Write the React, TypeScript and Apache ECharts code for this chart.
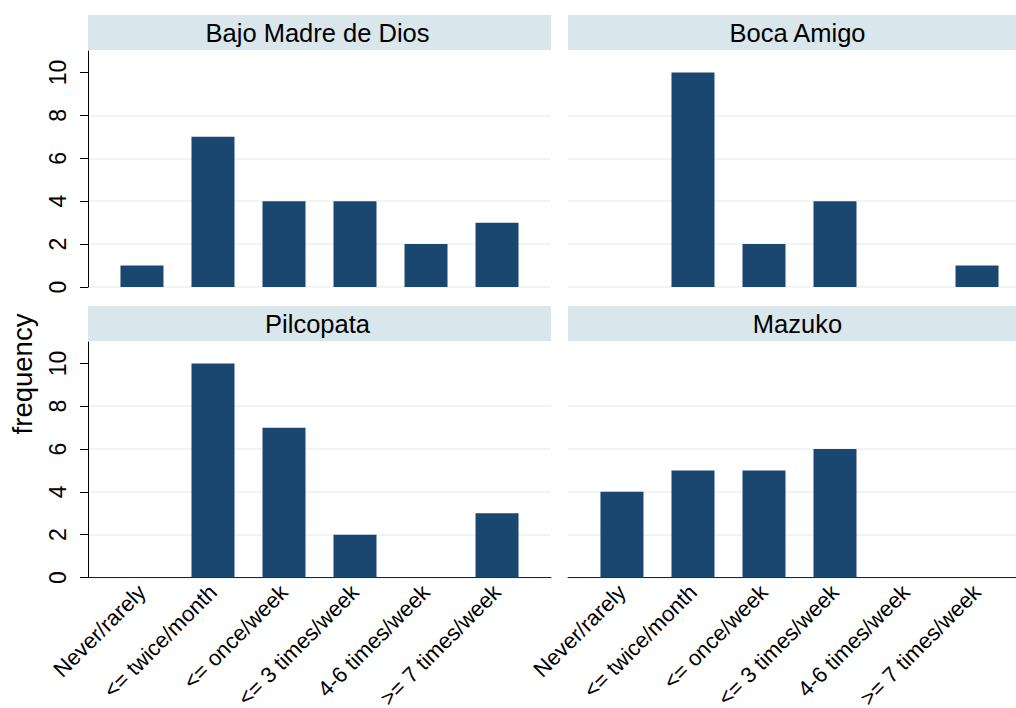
import React, { useEffect, useRef } from "react";
import * as echarts from "echarts";

const categories = [
  "Never/rarely",
  "<= twice/month",
  "<= once/week",
  "<= 3 times/week",
  "4-6 times/week",
  ">= 7 times/week",
];
const categoryPositions = [1, 2, 3, 4, 5, 6];
const panelTitles = ["Bajo Madre de Dios", "Boca Amigo", "Pilcopata", "Mazuko"];
const bajoMadreValues = [1, 7, 4, 4, 2, 3];
const bocaAmigoValues = [0, 10, 2, 4, 0, 1];
const pilcopataValues = [0, 10, 7, 2, 0, 3];
const mazukoValues = [4, 5, 5, 6, 0, 0];
const yTickValues = [0, 2, 4, 6, 8, 10];
const yAxisTitle = "frequency";

const panelValues = [bajoMadreValues, bocaAmigoValues, pilcopataValues, mazukoValues];

const FONT = "'Liberation Sans', Arial, Helvetica, sans-serif";
const BAR = "#1a476f";
const STRIP = "#d9e6eb";
const GRIDLINE = "#eaf0f2";

const layout = [
  { left: 88, top: 51, width: 463, height: 236 },
  { left: 568, top: 51, width: 463, height: 236 },
  { left: 88, top: 342, width: 463, height: 235.5 },
  { left: 568, top: 342, width: 463, height: 235.5 },
];
const strips = [
  { x: 88, y: 15, w: 463, h: 35 },
  { x: 568, y: 15, w: 463, h: 35 },
  { x: 88, y: 306, w: 463, h: 35 },
  { x: 568, y: 306, w: 463, h: 35 },
];

export default function App() {
  const ref = useRef<HTMLDivElement>(null);
  useEffect(() => {
    if (!ref.current) return;
    const chart = echarts.init(ref.current, null, { renderer: "svg" });
    const grids = layout.map((g) => ({
      ...g,
      containLabel: false,
      outerBoundsMode: "none",
    }));
    const xAxes = layout.map((_, i) => {
      const bottom = i >= 2;
      return {
        type: "value",
        gridIndex: i,
        min: 0.24,
        max: 6.76,
        splitLine: { show: false },
        axisLine: { show: bottom, lineStyle: { color: "#222", width: 1 } },
        axisTick: { show: false },
        axisLabel: {
          show: bottom,
          customValues: categoryPositions,
          rotate: 45,
          margin: 11,
          fontSize: 22,
          fontFamily: FONT,
          color: "#000",
          formatter: (v: number) => categories[Math.round(v) - 1] ?? "",
        },
      };
    });
    const yAxes = layout.map((_, i) => {
      const left = i % 2 === 0;
      return {
        type: "value",
        gridIndex: i,
        min: 0,
        max: 11,
        interval: 2,
        axisLine: { show: left, lineStyle: { color: "#000", width: 1 } },
        axisTick: {
          show: left,
          customValues: yTickValues,
          length: 8,
          lineStyle: { color: "#000" },
        },
        axisLabel: {
          show: left,
          customValues: yTickValues,
          rotate: 90,
          margin: 19,
          fontSize: 23,
          fontFamily: FONT,
          color: "#000",
        },
        splitLine: {
          show: true,
          showMaxLine: false,
          lineStyle: { color: GRIDLINE, width: 1.5 },
        },
      };
    });
    const series = panelValues.map((vals, i) => ({
      type: "bar",
      xAxisIndex: i,
      yAxisIndex: i,
      barWidth: 43,
      data: categoryPositions.map((x, k) => [x, vals[k]]),
      itemStyle: { color: BAR },
    }));
    const graphics: any[] = [];
    strips.forEach((s, i) => {
      graphics.push({
        type: "rect",
        shape: { x: s.x, y: s.y, width: s.w, height: s.h },
        style: { fill: STRIP },
        z: 10,
      });
      graphics.push({
        type: "text",
        x: s.x + s.w / 2 - 2,
        y: s.y + s.h / 2,
        style: {
          text: panelTitles[i],
          fontSize: 25.5,
          fontFamily: FONT,
          fill: "#000",
          align: "center",
          verticalAlign: "middle",
        },
        z: 11,
      });
    });
    graphics.push({
      type: "text",
      x: 22,
      y: 374,
      rotation: Math.PI / 2,
      style: {
        text: yAxisTitle,
        fontSize: 27.5,
        fontFamily: FONT,
        fill: "#000",
        align: "center",
        verticalAlign: "middle",
      },
    });
    chart.setOption({
      animation: false,
      backgroundColor: "#fff",
      grid: grids,
      xAxis: xAxes,
      yAxis: yAxes,
      series,
      graphic: graphics,
    });
    return () => chart.dispose();
  }, []);
  return (
    <div
      style={{
        position: "absolute",
        left: 0,
        top: 0,
        width: 1016,
        height: 708,
        overflow: "hidden",
        background: "#fff",
      }}
    >
      <div ref={ref} style={{ width: 1040, height: 708 }} />
    </div>
  );
}
